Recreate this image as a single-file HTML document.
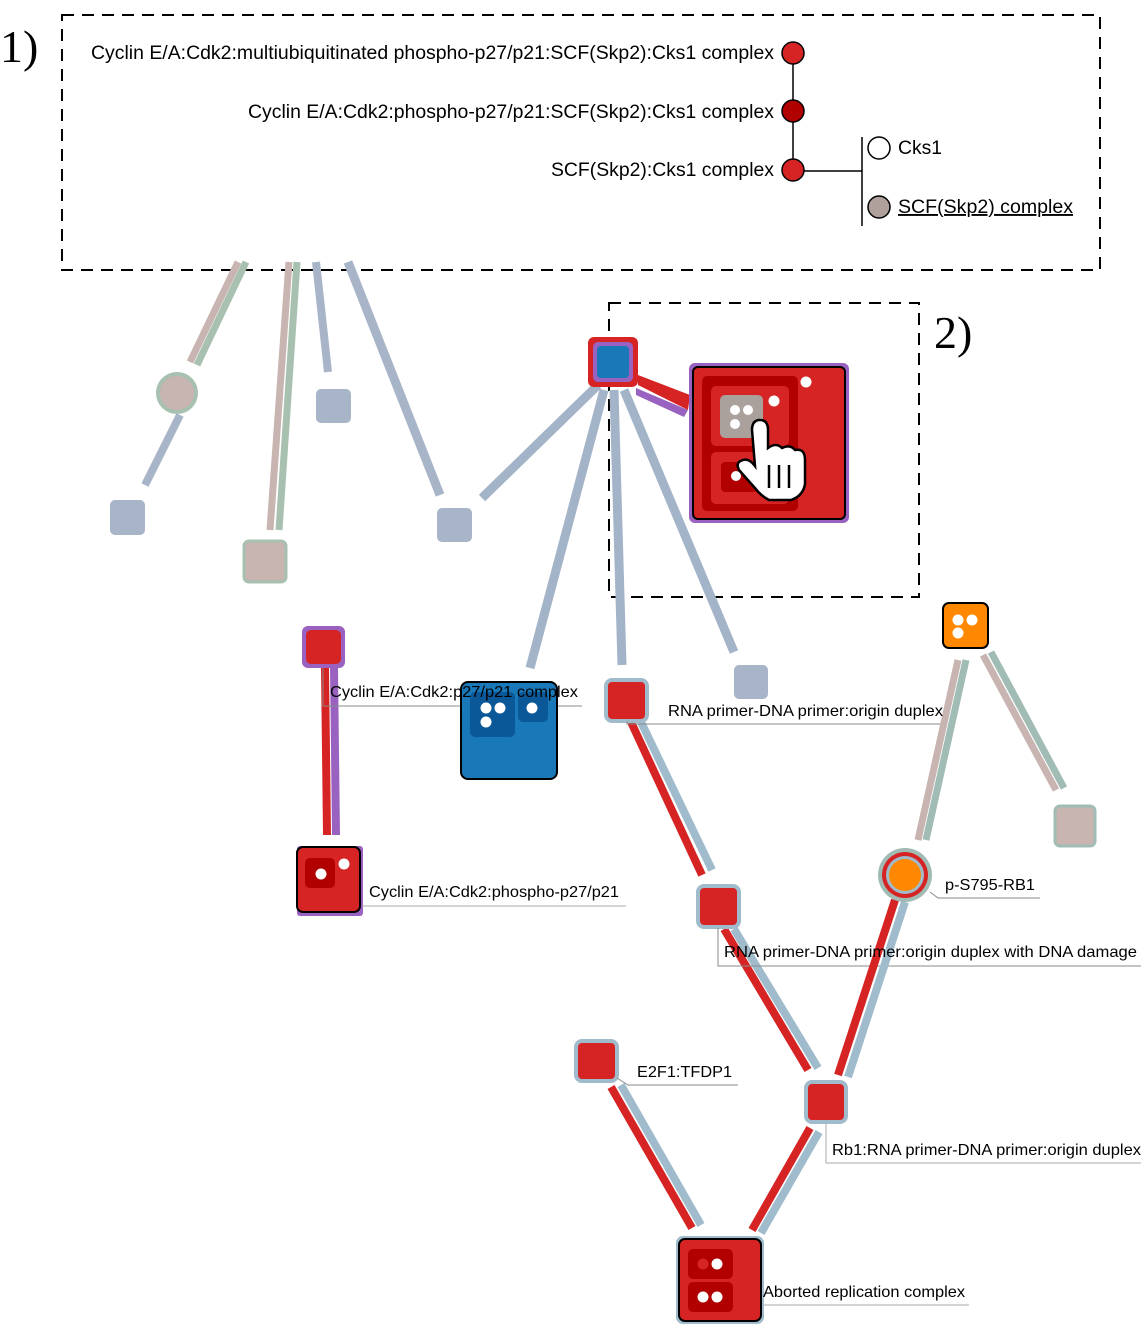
<!DOCTYPE html>
<html><head><meta charset="utf-8"><style>
html,body{margin:0;padding:0;background:#fff;}
svg{display:block;}
text{font-family:"Liberation Sans",sans-serif;}
</style></head><body>
<svg width="1141" height="1332" viewBox="0 0 1141 1332" xmlns="http://www.w3.org/2000/svg">
<!-- box 1 -->
<rect x="62" y="15" width="1038" height="255" fill="none" stroke="#000" stroke-width="2" stroke-dasharray="12,8"/>
<text x="0" y="62" font-size="46" style="font-family:'Liberation Serif',serif">1)</text>
<line x1="793" y1="53" x2="793" y2="170" stroke="#000" stroke-width="1.5"/>
<line x1="793" y1="171" x2="862" y2="171" stroke="#000" stroke-width="1.5"/>
<line x1="862" y1="137" x2="862" y2="226" stroke="#000" stroke-width="1.5"/>
<circle cx="793" cy="53" r="11" fill="#d62424" stroke="#000" stroke-width="1.5"/>
<circle cx="793" cy="111" r="11" fill="#b00000" stroke="#000" stroke-width="1.5"/>
<circle cx="793" cy="170" r="11" fill="#d62424" stroke="#000" stroke-width="1.5"/>
<circle cx="879" cy="148" r="11" fill="#fff" stroke="#000" stroke-width="1.5"/>
<circle cx="879" cy="207" r="11" fill="#b0a09c" stroke="#000" stroke-width="1.5"/>
<g font-size="19">
<text x="91" y="59" textLength="683" lengthAdjust="spacingAndGlyphs">Cyclin E/A:Cdk2:multiubiquitinated phospho-p27/p21:SCF(Skp2):Cks1 complex</text>
<text x="248" y="118" textLength="526" lengthAdjust="spacingAndGlyphs">Cyclin E/A:Cdk2:phospho-p27/p21:SCF(Skp2):Cks1 complex</text>
<text x="551" y="176" textLength="223" lengthAdjust="spacingAndGlyphs">SCF(Skp2):Cks1 complex</text>
<text x="898" y="154" textLength="44" lengthAdjust="spacingAndGlyphs">Cks1</text>
<text x="898" y="213" text-decoration="underline" textLength="175" lengthAdjust="spacingAndGlyphs">SCF(Skp2) complex</text>
</g>

<!-- box 2 -->
<rect x="609" y="303" width="310" height="294" fill="none" stroke="#000" stroke-width="2" stroke-dasharray="12,8"/>
<text x="934" y="348" font-size="46" style="font-family:'Liberation Serif',serif">2)</text>

<!-- upper-left greyed edges -->
<g stroke-linecap="butt">
<line x1="246" y1="262" x2="197" y2="365" stroke="#a8c0b0" stroke-width="7"/>
<line x1="238" y1="262" x2="190" y2="362" stroke="#c8b4b0" stroke-width="7"/>
<line x1="180" y1="415" x2="145" y2="485" stroke="#a8b4c8" stroke-width="8"/>
<line x1="297" y1="262" x2="279" y2="530" stroke="#a8c0b0" stroke-width="7"/>
<line x1="289" y1="262" x2="270" y2="530" stroke="#c8b4b0" stroke-width="7"/>
<line x1="316" y1="262" x2="328" y2="372" stroke="#a8b4c8" stroke-width="8"/>
<line x1="348" y1="262" x2="440" y2="495" stroke="#a8b4c8" stroke-width="9"/>
</g>
<circle cx="177" cy="393" r="19" fill="#c8b4b0" stroke="#a8c0b0" stroke-width="4"/>
<rect x="110" y="500" width="35" height="35" rx="5" fill="#a8b4c8"/>
<rect x="244" y="541" width="42" height="41" rx="5" fill="#c8b4b0" stroke="#a8c0b0" stroke-width="3"/>
<rect x="316" y="389" width="35" height="34" rx="5" fill="#a8b4c8"/>
<rect x="437" y="508" width="35" height="34" rx="5" fill="#a8b4c8"/>

<!-- central edges -->
<g stroke="#a4b4c8" stroke-width="9">
<line x1="598" y1="385" x2="482" y2="498"/>
<line x1="604" y1="390" x2="530" y2="668"/>
<line x1="614" y1="390" x2="622" y2="665"/>
<line x1="624" y1="390" x2="734" y2="652"/>
</g>
<polygon points="638,375 690,395 688,410 638,385" fill="#d62424"/>
<polygon points="636,388 688,410 684,417 636,395" fill="#9a62c0"/>
<rect x="588" y="337" width="50" height="50" rx="6" fill="#d62424"/>
<rect x="593" y="342" width="40" height="40" rx="5" fill="#9a62c0"/>
<rect x="597" y="346" width="32" height="32" rx="4" fill="#1878b8"/>

<!-- big node -->
<rect x="689" y="363" width="160" height="160" rx="6" fill="#9a62c0"/>
<rect x="693" y="367" width="152" height="152" rx="5" fill="#d62424" stroke="#000" stroke-width="2"/>
<rect x="702" y="376" width="96" height="135" rx="5" fill="#b00000"/>
<rect x="711" y="386" width="78" height="60" rx="5" fill="#d62424"/>
<rect x="720" y="395" width="43" height="43" rx="5" fill="#aaa09c"/>
<circle cx="735" cy="410" r="5" fill="#fff"/><circle cx="748" cy="410" r="5" fill="#fff"/><circle cx="735" cy="424" r="5" fill="#fff"/>
<rect x="711" y="452" width="78" height="52" rx="5" fill="#d62424"/>
<rect x="721" y="462" width="38" height="30" rx="4" fill="#b00000"/>
<circle cx="736" cy="476" r="5" fill="#fff"/>
<circle cx="774" cy="401" r="5.5" fill="#fff"/>
<circle cx="806" cy="382" r="5.5" fill="#fff"/>
<!-- hand cursor -->
<path d="M752 430 q0-10 8-10 q8 0 8 10 v18 q8-6 14 0 q8-4 13 2 q10-2 10 10 v24 q-2 12-14 16 h-22 q-8-4-14-12 l-16-18 q-4-8 4-10 q6-2 12 6 z" fill="#fff" stroke="#000" stroke-width="2.5"/>
<line x1="769" y1="465" x2="769" y2="488" stroke="#000" stroke-width="2.5"/>
<line x1="779" y1="465" x2="779" y2="488" stroke="#000" stroke-width="2.5"/>
<line x1="789" y1="465" x2="789" y2="488" stroke="#000" stroke-width="2.5"/>

<!-- left: Cyclin phospho -->
<line x1="325" y1="668" x2="327" y2="835" stroke="#d62424" stroke-width="8"/>
<line x1="334" y1="668" x2="336" y2="835" stroke="#9a62c0" stroke-width="8"/>
<rect x="302" y="626" width="43" height="42" rx="6" fill="#9a62c0"/>
<rect x="306" y="630" width="35" height="34" rx="5" fill="#d62424"/>
<rect x="297" y="846" width="66" height="70" rx="3" fill="#9a62c0"/>
<rect x="297" y="847" width="63" height="65" rx="6" fill="#d62424" stroke="#000" stroke-width="2"/>
<rect x="305" y="858" width="30" height="30" rx="5" fill="#b00000"/>
<circle cx="321" cy="874" r="5.5" fill="#fff"/><circle cx="344" cy="864" r="5.5" fill="#fff"/>
<polyline points="323,668 323,706 582,706" fill="none" stroke="#888" stroke-width="1"/>
<polyline points="362,906 626,906" fill="none" stroke="#aaa" stroke-width="1"/>

<!-- blue complex -->
<rect x="461" y="682" width="96" height="97" rx="7" fill="#1878b8" stroke="#000" stroke-width="2"/>
<rect x="470" y="692" width="45" height="45" rx="5" fill="#0a5898"/>
<rect x="518" y="692" width="30" height="30" rx="5" fill="#0a5898"/>
<circle cx="486" cy="708" r="5.5" fill="#fff"/><circle cx="500" cy="708" r="5.5" fill="#fff"/><circle cx="486" cy="722" r="5.5" fill="#fff"/><circle cx="532" cy="708" r="5.5" fill="#fff"/>

<!-- RNA chain -->
<line x1="631" y1="722" x2="702" y2="875" stroke="#d62424" stroke-width="8"/>
<line x1="641" y1="722" x2="712" y2="870" stroke="#a0bccc" stroke-width="8"/>
<rect x="606" y="680" width="41" height="41" rx="6" fill="#d62424" stroke="#a0bccc" stroke-width="4"/>
<rect x="734" y="665" width="34" height="34" rx="5" fill="#a8b4c8"/>
<polyline points="627,721 627,724 945,724" fill="none" stroke="#888" stroke-width="1"/>

<line x1="724" y1="929" x2="808" y2="1070" stroke="#d62424" stroke-width="8"/>
<line x1="734" y1="929" x2="818" y2="1068" stroke="#a0bccc" stroke-width="8"/>
<rect x="698" y="886" width="41" height="41" rx="6" fill="#d62424" stroke="#a0bccc" stroke-width="4"/>
<polyline points="718,928 718,966 1141,966" fill="none" stroke="#888" stroke-width="1"/>

<!-- orange -->
<line x1="958" y1="660" x2="918" y2="840" stroke="#c8b4b0" stroke-width="7"/>
<line x1="966" y1="660" x2="926" y2="840" stroke="#a0bcb4" stroke-width="7"/>
<line x1="983" y1="655" x2="1056" y2="790" stroke="#c8b4b0" stroke-width="7"/>
<line x1="991" y1="652" x2="1064" y2="788" stroke="#a0bcb4" stroke-width="7"/>
<rect x="943" y="603" width="45" height="45" rx="6" fill="#ff8800" stroke="#000" stroke-width="2"/>
<circle cx="958" cy="620" r="5.5" fill="#fff"/><circle cx="972" cy="620" r="5.5" fill="#fff"/><circle cx="958" cy="633" r="5.5" fill="#fff"/>
<rect x="1055" y="806" width="40" height="40" rx="5" fill="#c8b4b0" stroke="#a0bcb4" stroke-width="3"/>

<line x1="895" y1="900" x2="838" y2="1075" stroke="#d62424" stroke-width="8"/>
<line x1="905" y1="902" x2="848" y2="1077" stroke="#a0bccc" stroke-width="8"/>
<circle cx="905" cy="875" r="27" fill="#a0bcb4"/>
<circle cx="905" cy="875" r="23" fill="#d62424"/>
<circle cx="905" cy="875" r="19" fill="#a0bccc"/>
<circle cx="905" cy="875" r="16" fill="#ff8800"/>
<polyline points="930,892 938,898 1040,898" fill="none" stroke="#888" stroke-width="1"/>

<!-- Rb1 node -->
<rect x="806" y="1082" width="40" height="40" rx="6" fill="#d62424" stroke="#a0bccc" stroke-width="4"/>
<polyline points="826,1124 826,1163 1141,1163" fill="none" stroke="#aaa" stroke-width="1"/>

<!-- E2F1 -->
<line x1="611" y1="1087" x2="692" y2="1228" stroke="#d62424" stroke-width="8"/>
<line x1="621" y1="1085" x2="701" y2="1225" stroke="#a0bccc" stroke-width="8"/>
<line x1="810" y1="1128" x2="752" y2="1230" stroke="#d62424" stroke-width="8"/>
<line x1="819" y1="1132" x2="761" y2="1233" stroke="#a0bccc" stroke-width="8"/>
<rect x="576" y="1041" width="41" height="40" rx="6" fill="#d62424" stroke="#a0bccc" stroke-width="4"/>
<polyline points="617,1078 628,1085 738,1085" fill="none" stroke="#888" stroke-width="1"/>

<!-- Aborted -->
<rect x="676" y="1236" width="88" height="88" rx="7" fill="#a0bccc"/>
<rect x="679" y="1239" width="82" height="82" rx="6" fill="#d62424" stroke="#000" stroke-width="2"/>
<rect x="688" y="1249" width="45" height="30" rx="5" fill="#b00000"/>
<rect x="688" y="1282" width="45" height="30" rx="5" fill="#b00000"/>
<circle cx="703" cy="1264" r="5.5" fill="#d62424"/><circle cx="717" cy="1264" r="5.5" fill="#fff"/>
<circle cx="703" cy="1297" r="5.5" fill="#fff"/><circle cx="717" cy="1297" r="5.5" fill="#fff"/>
<line x1="764" y1="1305" x2="969" y2="1305" stroke="#aaa" stroke-width="1"/>

<!-- labels -->
<g font-size="16">
<text x="330" y="697" textLength="248" lengthAdjust="spacingAndGlyphs">Cyclin E/A:Cdk2:p27/p21 complex</text>
<text x="369" y="897" textLength="250" lengthAdjust="spacingAndGlyphs">Cyclin E/A:Cdk2:phospho-p27/p21</text>
<text x="668" y="716" textLength="275" lengthAdjust="spacingAndGlyphs">RNA primer-DNA primer:origin duplex</text>
<text x="724" y="957" textLength="413" lengthAdjust="spacingAndGlyphs">RNA primer-DNA primer:origin duplex with DNA damage</text>
<text x="945" y="890" textLength="90" lengthAdjust="spacingAndGlyphs">p-S795-RB1</text>
<text x="832" y="1155" textLength="309" lengthAdjust="spacingAndGlyphs">Rb1:RNA primer-DNA primer:origin duplex</text>
<text x="637" y="1077" textLength="95" lengthAdjust="spacingAndGlyphs">E2F1:TFDP1</text>
<text x="763" y="1297" textLength="202" lengthAdjust="spacingAndGlyphs">Aborted replication complex</text>
</g>
</svg>
</body></html>
